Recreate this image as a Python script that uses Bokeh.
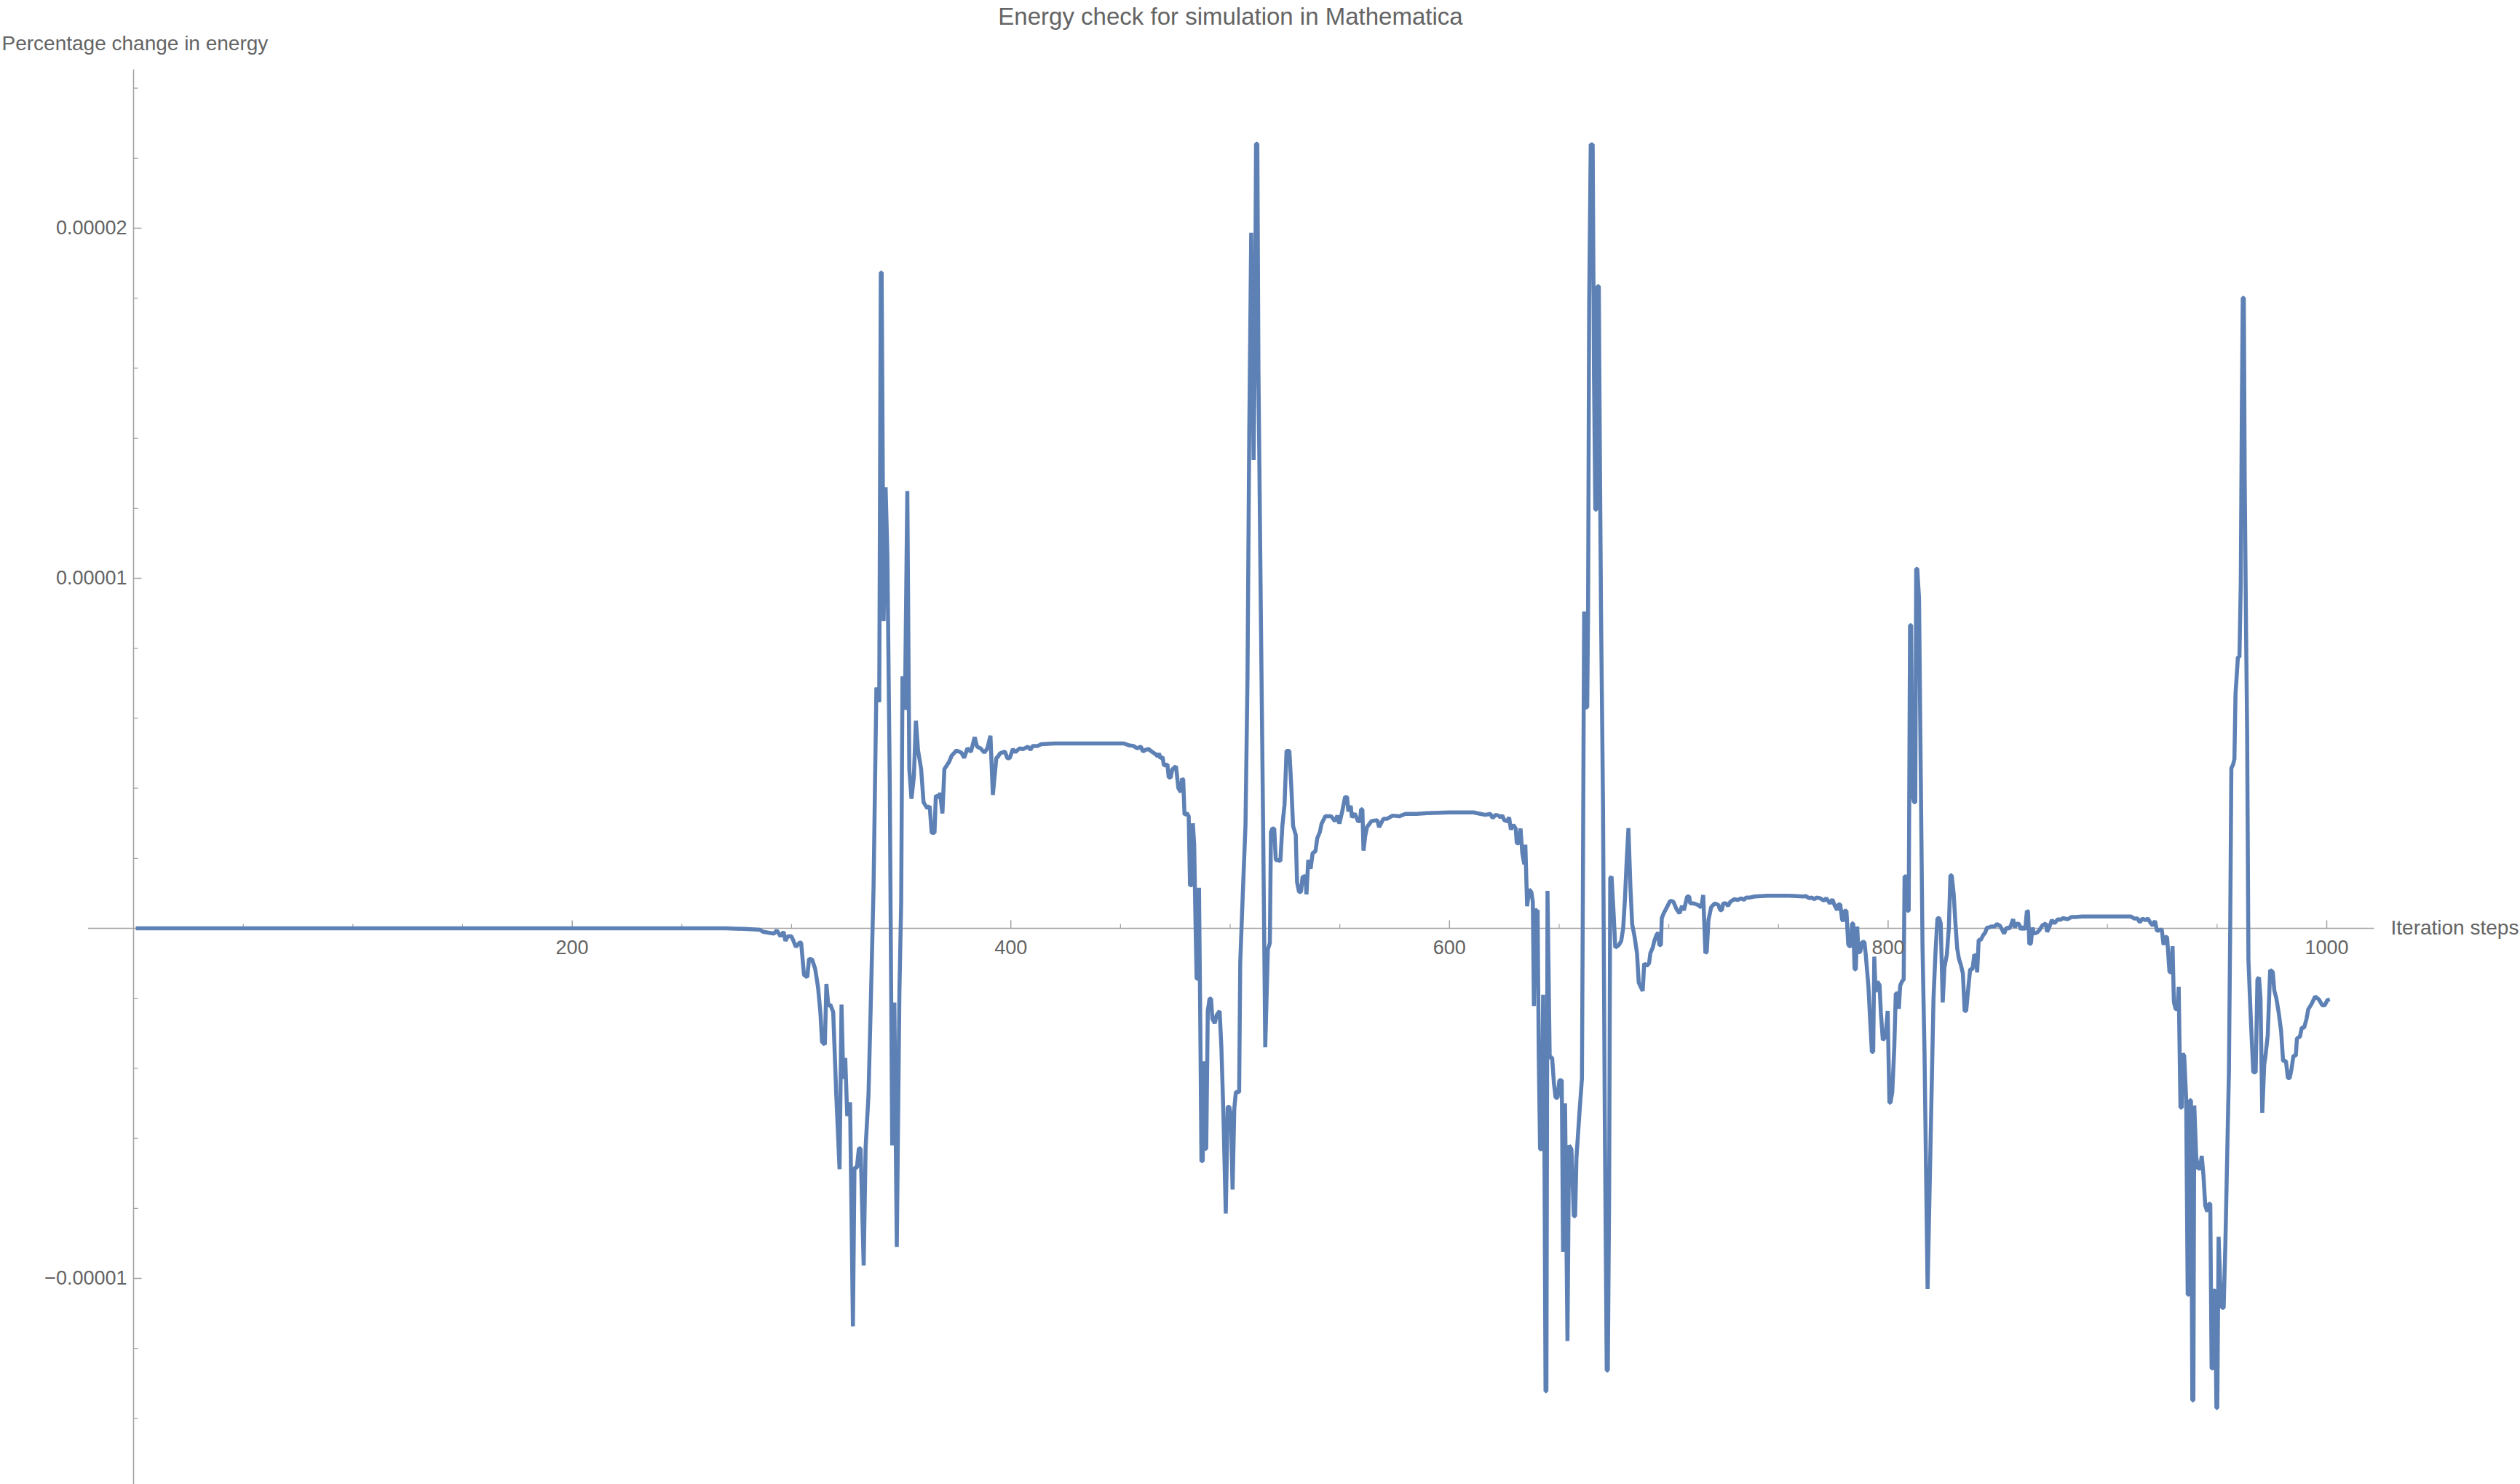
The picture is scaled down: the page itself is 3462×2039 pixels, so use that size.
from bokeh.plotting import figure
from bokeh.models import Range1d
from bokeh.core.properties import value
from bokeh.embed import file_html
from bokeh.resources import INLINE

# ---------------- data (percentage change in energy, in units of 1e-6) ----------------
A_x = [1, 270, 280, 285.6, 287, 292, 293.3, 295, 296.4, 297.2, 298.3, 300, 302, 303.8, 304.4]
A_y = [0, 0, -0.02, -0.04, -0.1, -0.15, -0.06, -0.23, -0.1, -0.36, -0.23, -0.23, -0.53, -0.4, -0.42]

B_x = [305.7, 307.2, 308, 309.4, 310.8, 312.1, 313.2, 313.9, 315.2, 315.9,
       316.8, 317.7, 319, 320.4, 321.9, 322.8, 323.6, 324.5, 325.4, 326.7,
       328, 328.7, 329.8, 330.7, 331.5, 332.9, 333.8, 335.1, 336.2, 337.4,
       338.7, 340, 340.7, 341.1, 342, 342.9, 343.7, 344.8, 345.9, 346.9,
       348, 349.2, 350, 350.6, 351.7, 352.8, 353.7, 354.7, 355.8, 356.7,
       357.7, 359.1, 360.2, 361.9, 363, 363.9, 365.2, 365.8, 367.2, 367.7,
       368.8, 369.7, 371.9, 373, 375.2, 377.4, 378.7, 380.2, 381.8, 383.5,
       384.6, 386.2, 387.9, 389.3, 390.7, 391.8, 393.4]
B_y = [-1.33, -1.4, -0.87, -0.89, -1.16, -1.69, -2.43, -3.24, -3.32, -1.59,
       -2.22, -2.18, -2.39, -4.76, -6.88, -2.18, -4.3, -3.7, -5.36, -4.97,
       -11.37, -6.84, -6.84, -6.29, -6.29, -9.63, -6.24, -4.76, -2.01, 1.16,
       6.88, 6.46, 18.73, 18.73, 8.78, 12.6, 10.69, 4.13, -6.2, -2.12,
       -9.1, -1.8, 0.74, 7.2, 6.24, 12.49, 4.55, 3.7, 4.34, 5.93,
       5.08, 4.55, 3.6, 3.43, 3.49, 2.73, 2.73, 3.79, 3.75, 3.87,
       3.28, 4.55, 4.76, 4.93, 5.08, 5.02, 4.87, 5.14, 5.04, 5.46,
       5.19, 5.14, 5.02, 5.14, 5.5, 3.81, 4.87]

C_x = [394, 395.1, 397.3, 398.4, 399.5, 400.9, 402, 404, 405.6, 407.8,
       408.9, 410, 412.3, 413.9, 420, 451.5, 453.7, 455.9, 457.6, 459.3,
       460.2, 461.5, 462.8, 464.2, 465.9, 467, 467.6, 468.1, 469.2, 469.8,
       471.4, 472, 472.9, 473.6, 475.3, 476.4, 477.5, 478.1, 478.6, 479.2,
       480.3, 481.1]
C_y = [4.89, 5.0, 5.05, 4.86, 4.86, 5.12, 5.03, 5.14, 5.12, 5.19,
       5.1, 5.21, 5.21, 5.26, 5.28, 5.28, 5.23, 5.21, 5.14, 5.19,
       5.05, 5.1, 5.12, 5.05, 4.98, 4.91, 5.0, 4.86, 4.89, 4.65,
       4.68, 4.31, 4.31, 4.54, 4.63, 4.0, 3.89, 4.28, 4.24, 3.24,
       3.29, 3.2]

D_x = [481.7, 482.5, 483, 483.6, 484.2, 484.7, 485.3, 485.8, 486.4, 486.9,
       487.5, 488, 488.6, 489.1, 489.8, 490.6, 491.3, 491.9, 493, 493.8,
       495.2, 496, 496.9, 498, 498.9, 499.6, 500.4, 501.1, 501.9, 502.6,
       504.1, 504.6, 505.7, 507, 507.9, 508.7, 509.6, 510.1, 510.7, 511.3,
       511.8, 512.4, 512.9, 514, 515.1, 516, 517.2, 518.1]
D_y = [1.23, 1.23, 3.0, 2.38, 0.19, -1.44, -1.44, 1.16, -2.82, -6.65,
       -6.65, -3.8, -6.3, -6.3, -2.36, -2.01, -2.01, -2.59, -2.71, -2.48,
       -2.36, -3.4, -5.26, -8.15, -5.1, -5.1, -5.37, -7.46, -5.14, -4.68,
       -4.68, -0.97, 0.88, 2.96, 7.13, 14.08, 19.87, 16.86, 13.38, 16.62,
       22.41, 22.41, 15.93, 8.98, 2.5, -3.4, -0.6, -0.42]

E_x = [518.6, 519.2, 520.1, 520.8, 521.8, 522.9, 523.8, 524.8, 525.7, 527,
       527.9, 528.7, 529.9, 530.5, 531.4, 532.3, 533, 534.3, 534.8, 535.6,
       536.7, 537.6, 538.9, 539.7, 540.9, 541.7, 543.4, 546.1, 547.8, 548.9,
       549.8, 551.1, 552.4, 553.3, 553.9, 555, 555.5, 556.8, 558.3, 559.2,
       559.7, 560.3, 560.8, 561.6, 562.4, 564.4, 567.1, 567.9, 569.9, 571.6,
       574.1, 577.1, 579.9, 585, 589.8, 600, 611, 614.1, 616.4, 618.6,
       619.7, 621, 622.4, 623.2, 624.1, 625, 626.3, 627.2, 628, 629.1,
       630.2, 630.7, 631.6, 632.4, 633.2, 634.1, 634.6, 635.4, 636.3, 637.3,
       638, 638.5, 639.1]
E_y = [2.75, 2.85, 2.85, 1.95, 1.95, 1.92, 2.92, 3.54, 5.07, 5.07,
       4.03, 2.92, 2.67, 1.32, 1.04, 1.04, 1.46, 1.5, 0.97, 1.95,
       1.7, 2.15, 2.2, 2.57, 2.75, 2.99, 3.2, 3.2, 3.06, 3.22,
       2.99, 3.34, 3.75, 3.75, 3.34, 3.5, 3.17, 3.28, 3.06, 3.06,
       3.4, 3.4, 2.22, 2.64, 2.89, 3.06, 3.09, 2.89, 3.13, 3.13,
       3.22, 3.2, 3.27, 3.27, 3.29, 3.31, 3.31, 3.27, 3.24, 3.27,
       3.15, 3.24, 3.22, 3.17, 3.22, 3.09, 3.06, 3.17, 2.82, 2.96,
       2.85, 2.43, 2.43, 2.85, 2.15, 1.83, 2.39, 0.63, 1.11, 1.04,
       0.76, -2.22, 0.56]

F_x = [639.6, 640.2, 640.7, 641.3, 642, 642.7, 643.3, 643.8, 644.2, 644.7,
       645.7, 646.8, 647.6, 648.4, 649.3, 650.1, 651.2, 651.8, 652.7, 653.8,
       654.5, 655.6, 656.7, 657.3, 657.9, 659.3, 660.4, 660.8, 661.4, 661.9,
       662.8, 663.2, 663.7, 664.4, 665.3, 665.9, 666.5, 667, 667.5, 668.1,
       668.6, 669.1, 670, 670.8, 671.7, 672.2, 672.8, 673.3, 673.9, 674.8,
       675.6, 677.2, 678.3, 679.2, 680, 680.7, 681.6, 682.5, 683.3, 684.4,
       685.5, 686.3, 687.2, 688.1, 688.8, 689.9, 691, 691.6, 692.7, 693.4,
       694.4, 695.2, 695.7, 696.4, 696.8, 697.7, 699.1, 700.7, 702.1, 703.5,
       704.9, 706, 706.9, 708.4, 709.3, 709.8, 711.5, 713.2, 714.8, 715.7,
       716.7, 717.3, 718.1, 719.3, 720.9, 722.6, 723.4, 724.2, 724.8, 726.1,
       727, 728.1, 729.8, 731.5, 733.1, 734.2, 735.3, 737, 739.2, 745,
       755, 761.3]
F_y = [0.48, 0.52, -3.57, -6.31, -6.31, -1.9, -6.31, -13.22, -13.22, 1.07,
       -3.69, -3.69, -4.41, -4.84, -4.84, -4.34, -4.34, -9.24, -5.0, -11.79,
       -6.2, -6.31, -8.22, -8.22, -6.55, -5.24, -4.29, 0.71, 9.05, 6.31,
       6.31, 9.05, 17.87, 22.39, 22.39, 15.72, 11.96, 11.96, 18.34, 18.34,
       13.34, 9.05, 3.57, -5.24, -12.63, -12.63, -7.62, 1.43, 1.48, 0.48,
       -0.55, -0.48, -0.36, 0.0, 0.83, 1.79, 2.86, 1.19, 0.12, -0.24,
       -0.71, -1.55, -1.67, -1.79, -1.0, -1.07, -1.0, -0.71, -0.55, -0.36,
       -0.19, -0.12, -0.48, -0.48, 0.29, 0.43, 0.6, 0.79, 0.76, 0.55,
       0.43, 0.64, 0.52, 0.91, 0.91, 0.71, 0.71, 0.67, 0.6, 0.95,
       -0.71, -0.67, 0.24, 0.6, 0.71, 0.67, 0.52, 0.52, 0.71, 0.71,
       0.64, 0.76, 0.83, 0.81, 0.86, 0.81, 0.88, 0.88, 0.91, 0.93,
       0.93, 0.91]

G_x = [762.4, 764.1, 765.2, 766.3, 767.4, 769, 770.7, 771.8, 773.5, 774.6,
       775.7, 776.8, 777.3, 778.2, 779, 779.5, 780.1, 781, 781.8, 782.3,
       782.9, 783.6, 784.1, 784.7, 785.3, 785.9, 786.5, 787.3, 788.2, 789.2,
       789.8, 791, 791.7, 792.6, 793.2, 793.7, 794.3, 795.1, 796.1, 796.7,
       797.6, 798.4, 799.1, 799.8, 800.6, 801.1, 801.9, 802.8, 803.5, 804.4,
       804.9, 805.5, 806.3, 807.1, 807.5, 808.3, 808.9, 809.4, 810, 810.5,
       811.1, 811.8, 812.4, 812.8, 813.3, 814.1, 814.9, 815.7, 816.6, 818,
       820.7, 821.6, 822.5, 823.3, 824, 824.9, 825.7, 826.8, 827.7, 828.4,
       829, 829.9, 830.7, 831.5, 832.3, 833.2, 834.1, 834.9, 835.6, 836.3,
       837.4, 838.5, 839.3, 840.1, 840.6, 841.3, 842.3, 843.2, 844.3, 845.1,
       845.9, 847, 848.5, 849.6, 850.9, 852, 852.9, 854, 855.3, 856.2,
       857, 857.8, 858.6, 859.7, 860.6, 861.4, 862.5, 863.3, 863.8, 864.4,
       865.1, 865.8, 866.6, 868, 869.1, 870.3, 871.9, 872.5, 873.6, 874.7,
       875.8, 877.4, 878.5, 879.7, 881.9, 883.5, 885.2]
G_y = [0.92, 0.86, 0.88, 0.83, 0.88, 0.86, 0.79, 0.86, 0.71, 0.83,
       0.64, 0.52, 0.68, 0.68, 0.26, 0.2, 0.5, 0.5, -0.45, -0.51,
       -0.51, 0.14, 0.14, -1.17, -1.17, 0.05, -0.69, -0.67, -0.39, -0.39,
       -0.75, -1.64, -2.48, -3.53, -3.53, -0.81, -1.82, -1.52, -1.62, -2.42,
       -3.19, -3.13, -2.89, -2.36, -4.98, -4.98, -4.68, -3.43, -1.86, -1.86,
       -2.3, -1.64, -1.52, -1.46, 1.48, 1.48, 0.5, 0.5, 8.66, 8.66,
       3.84, 3.6, 3.6, 10.27, 10.27, 9.43, 4.31, -0.57, -3.55, -10.3,
       -2.0, -0.69, 0.29, 0.29, 0.14, -2.12, -1.11, -0.75, 0.02, 1.51,
       1.51, 0.98, 0.14, -0.57, -0.87, -1.05, -1.29, -2.36, -2.36, -1.88,
       -1.17, -1.17, -0.75, -0.79, -1.26, -0.33, -0.33, -0.21, -0.12, 0.02,
       0.02, 0.05, 0.05, 0.12, 0.08, -0.04, -0.15, 0.02, -0.01, 0.12,
       0.26, 0.02, 0.14, 0.12, -0.04, 0.05, -0.04, 0.5, 0.48, -0.45,
       -0.43, 0.02, -0.15, -0.12, -0.04, 0.08, 0.14, -0.1, 0.05, 0.24,
       0.14, 0.26, 0.24, 0.29, 0.26, 0.32, 0.32]

H_x = [888.5, 900, 910.6, 912.3, 913.7, 914.8, 916, 917.3, 918.4, 919.5,
       920.6, 921.7, 922.6, 923.9, 924.8, 925.6, 926.4, 927.2, 928.3, 929.1,
       929.7, 930.3, 931.1, 931.9, 932.5, 933.3, 933.9, 934.3, 935, 935.9,
       936.6, 937.2, 937.6, 938.1, 938.7, 939.2, 939.6, 940.5, 941.3, 942.2,
       943, 943.8, 944.6, 945.5, 946.3, 946.9, 947.5, 948, 948.5, 949.1,
       949.7, 950.1, 950.7, 951.6, 952.3, 953, 953.8, 954.7, 955.4, 956,
       956.5, 957.3, 957.9, 958.4, 959.5, 960.2, 960.8, 961.3, 961.7, 962.2,
       962.6, 963.2, 963.7, 964.3, 965.4, 966.5, 967.6, 968.4, 969.1, 969.8,
       970.6, 971.5, 972, 973.1, 974.2, 975.4, 976.1, 977, 978.1, 979.2,
       980.1, 981.4, 982.3, 983.1, 984, 984.8, 985.9, 986.4, 987.8, 988.6,
       989.7, 990.8, 991.6, 993.1, 994.7, 996.4, 998, 999.1, 1000.3, 1001.4]
H_y = [0.34, 0.34, 0.34, 0.28, 0.28, 0.17, 0.28, 0.23, 0.28, 0.17,
       0.08, 0.21, -0.08, -0.04, -0.04, -0.47, -0.25, -0.25, -1.25, -1.25,
       -0.51, -2.1, -2.31, -2.31, -1.67, -5.12, -5.12, -3.58, -3.64, -4.85,
       -10.46, -10.46, -4.91, -4.91, -13.48, -13.48, -5.06, -6.54, -6.86, -6.86,
       -6.5, -7.07, -7.92, -8.09, -7.87, -7.87, -12.57, -12.57, -10.35, -10.35,
       -13.7, -13.7, -8.81, -10.46, -10.84, -10.84, -8.98, -6.22, -4.11, 0.13,
       4.57, 4.68, 4.83, 6.69, 7.75, 7.75, 9.86, 14.94, 18.01, 18.01,
       12.83, 8.59, 5.63, -0.93, -2.62, -4.11, -4.11, -1.46, -1.4, -1.99,
       -5.27, -3.89, -3.68, -3.05, -1.19, -1.25, -1.78, -1.99, -2.41, -2.94,
       -3.79, -3.79, -4.28, -4.28, -4.0, -3.64, -3.64, -3.15, -3.09, -2.84,
       -2.84, -2.58, -2.31, -2.16, -1.95, -2.03, -2.2, -2.2, -2.05, -2.03]

steps = A_x + B_x + C_x + D_x + E_x + F_x + G_x + H_x
values_e6 = A_y + B_y + C_y + D_y + E_y + F_y + G_y + H_y
assert len(steps) == len(values_e6), (len(steps), len(values_e6))
pct_change = [v * 1e-6 for v in values_e6]

TITLE = "Energy check for simulation in Mathematica"
X_LABEL = "Iteration steps"
Y_LABEL = "Percentage change in energy"
x_major_ticks = [200, 400, 600, 800, 1000]
x_major_labels = ["200", "400", "600", "800", "1000"]
y_major_ticks = [-0.00001, 0.00001, 0.00002]
y_major_labels = ["\u22120.00001", "0.00001", "0.00002"]
x_minor_ticks = [t for t in range(50, 1001, 50) if t % 200 != 0]
y_minor_ticks = [k * 2e-6 for k in range(-7, 13) if k != 0 and k % 5 != 0]

# ---------------- layout (pixel geometry of the page) ----------------
W, H = 3462, 2039
X0_PX, X_PX_PER = 183.0, 3.013      # pixel of x=0, pixels per step
Y0_PX, Y_PX_PER = 1275.0, 48.1e6    # pixel of y=0, pixels per unit of y
TEXT_SHIFT = 11                      # svg text baseline correction (px)


def sx(px):
    return (px - X0_PX) / X_PX_PER


def sy(py):
    return (Y0_PX - py) / Y_PX_PER


def ty(py):
    return sy(py - TEXT_SHIFT)


def dxp(n):
    return n / X_PX_PER


def dyp(n):
    return n / Y_PX_PER


plot_x = (sx(120.5), sx(3261))
plot_y = (sy(2039), sy(95))

FONT = "Liberation Sans"
TXT = "#646464"
AXIS = "#a0a0a0"
LINE = "#5E81B5"

p = figure(width=W, height=H, output_backend="svg", toolbar_location=None,
           x_range=Range1d(sx(0), sx(W)), y_range=Range1d(sy(H), sy(0)),
           x_axis_location=None, y_axis_location=None, min_border=0)
p.xgrid.visible = False
p.ygrid.visible = False
p.outline_line_color = None
p.background_fill_color = "white"
p.border_fill_color = "white"

# axes through the origin
p.segment(x0=[plot_x[0], 0], y0=[0, plot_y[0]], x1=[plot_x[1], 0], y1=[0, plot_y[1]],
          line_color=AXIS, line_width=1.5)
# x ticks (pointing up)
p.segment(x0=x_major_ticks, y0=[0] * len(x_major_ticks), x1=x_major_ticks,
          y1=[dyp(11)] * len(x_major_ticks), line_color=AXIS, line_width=1.5)
p.segment(x0=x_minor_ticks, y0=[0] * len(x_minor_ticks), x1=x_minor_ticks,
          y1=[dyp(6)] * len(x_minor_ticks), line_color=AXIS, line_width=1.2)
# y ticks (pointing right)
p.segment(x0=[0] * len(y_major_ticks), y0=y_major_ticks, x1=[dxp(11)] * len(y_major_ticks),
          y1=y_major_ticks, line_color=AXIS, line_width=1.5)
p.segment(x0=[0] * len(y_minor_ticks), y0=y_minor_ticks, x1=[dxp(6)] * len(y_minor_ticks),
          y1=y_minor_ticks, line_color=AXIS, line_width=1.2)

# data line
p.line(steps, pct_change, line_color=LINE, line_width=5.5)

# tick labels
p.text(x=x_major_ticks, y=[ty(1312)] * len(x_major_ticks), text=x_major_labels,
       text_font=value(FONT), text_font_size=value("27px"), text_color=TXT,
       text_align="center", text_baseline="alphabetic")
p.text(x=[sx(174)] * len(y_major_ticks), y=[t - dyp(10 - TEXT_SHIFT) for t in y_major_ticks],
       text=y_major_labels, text_font=value(FONT), text_font_size=value("27px"),
       text_color=TXT, text_align="right", text_baseline="alphabetic")

# axis labels and title
p.text(x=[sx(3284)], y=[ty(1285)], text=[X_LABEL], text_font=value(FONT),
       text_font_size=value("28px"), text_color=TXT, text_align="left",
       text_baseline="alphabetic")
p.text(x=[sx(2)], y=[ty(70)], text=[Y_LABEL], text_font=value(FONT),
       text_font_size=value("28px"), text_color=TXT, text_align="left",
       text_baseline="alphabetic")
p.text(x=[sx(1690)], y=[ty(33)], text=[TITLE], text_font=value(FONT),
       text_font_size=value("33px"), text_color=TXT, text_align="center",
       text_baseline="alphabetic")

open("out.html", "w").write(file_html(p, INLINE))
